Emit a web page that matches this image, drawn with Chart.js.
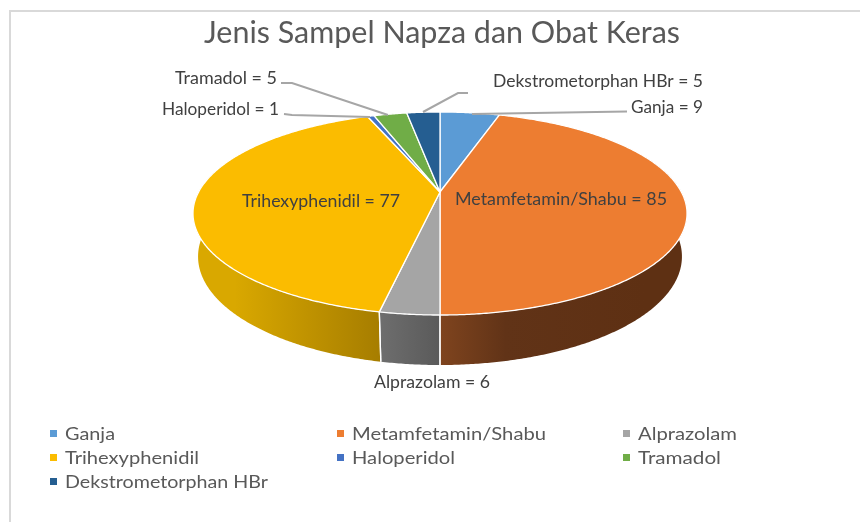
<!DOCTYPE html>
<html>
<head>
<meta charset="utf-8">
<script src="https://cdn.jsdelivr.net/npm/chart.js@4"></script>
<style>
html,body{margin:0;padding:0;background:#fff;overflow:hidden}
canvas{display:block;filter:blur(0.4px)}
</style>
</head>
<body>
<canvas id="c" width="860" height="522"></canvas>
<script>
const chartTitle = "Jenis Sampel Napza dan Obat Keras";
const categories = ["Ganja","Metamfetamin/Shabu","Alprazolam","Trihexyphenidil","Haloperidol","Tramadol","Dekstrometorphan HBr"];
const values = [9,85,6,77,1,5,5];
const colors = ["#5b9bd5","#ed7d31","#a5a5a5","#fbbc00","#4472c4","#70ad47","#255e91"];
const wallStops = [
  [[0,"#3c5f80"],[1,"#3c5f80"]],
  [[0,"#7f441e"],[0.32,"#613317"],[1,"#5e3013"]],
  [[0,"#6e6e6e"],[1,"#5a5a5a"]],
  [[0,"#d9a800"],[1,"#a67d00"]],
  [[0,"#2b4a80"],[1,"#2b4a80"]],
  [[0,"#446b2c"],[1,"#446b2c"]],
  [[0,"#163a5a"],[1,"#163a5a"]]
];

// Perspective of the tilted disc: maps a unit-circle angle and a depth to the page.
const view = {cx:440, hubY:192, A:241.4, b:56.3, k:0.2118, m:0.02, d:46.7};
function project(a, depth){
  const u = Math.cos(a), v = Math.sin(a);
  const w = 1 - view.k*v + view.m*depth;
  return {x: view.cx + view.A*u/w, y: (view.hubY + view.b*v + view.d*depth)/w};
}
function trace(ctx, from, to, depth){
  const n = Math.max(2, Math.ceil(Math.abs(to-from)/0.008));
  for(let i=0;i<=n;i++){
    const p = project(from+(to-from)*i/n, depth);
    ctx.lineTo(p.x,p.y);
  }
}
const visible = [-0.4, Math.PI+0.4];

const titleBox = {left:204, right:680, y:33, size:30};
const labelBoxes = [
  {left:631, right:703, y:108},
  {left:455, right:667, y:200},
  {left:374, right:490, y:383},
  {left:242, right:400, y:202},
  {left:162, right:279, y:110},
  {left:175, right:277, y:79},
  {left:493, right:703, y:82}
];
const leaderPaths = [
  [[627,111.5],[472,114]],
  null,
  null,
  null,
  [[284,114],[292,115],[370,117]],
  [[281,83],[292,83],[388,115]],
  [[468,93],[458,93],[423,112]]
];
const legendCols = [50,337,623];
const legendRows = [434,458,482];
const legendWidths = [50,194,99,134,103,83,203];

function fitText(ctx, str, left, right, y, size, color){
  ctx.save();
  ctx.font = size+"px Lato";
  ctx.fillStyle = color;
  ctx.textBaseline = "middle";
  ctx.textAlign = "left";
  const w = ctx.measureText(str).width;
  ctx.translate(left,y);
  ctx.scale((right-left)/w,1);
  ctx.fillText(str,0,0);
  ctx.restore();
}

const pie3d = {
  id:"pie3d",
  beforeDatasetDraw(chart,args){
    const ctx = chart.ctx, arcs = args.meta.data;
    ctx.save();
    // side wall
    arcs.forEach((el,i)=>{
      const s = Math.max(el.startAngle,visible[0]), e = Math.min(el.endAngle,visible[1]);
      if(e<=s) return;
      const a = project(s,0), z = project(e,0);
      const x0 = Math.min(a.x,z.x,project(s,1).x,project(e,1).x);
      const x1 = Math.max(a.x,z.x,project(s,1).x,project(e,1).x);
      const g = ctx.createLinearGradient(x0,0,x1,0);
      const st = wallStops[i];
      st.forEach(p=>g.addColorStop(p[0],p[1]));
      ctx.beginPath();
      trace(ctx,s,e,0);
      trace(ctx,e,s,1);
      ctx.closePath();
      ctx.fillStyle = g;
      ctx.fill();
    });
    ctx.strokeStyle="#fff"; ctx.lineWidth=1.3;
    arcs.forEach(el=>{
      [el.startAngle,el.endAngle].forEach(t=>{
        if(t>0.1 && t<Math.PI-0.1){
          const p=project(t,0), q=project(t,1);
          ctx.beginPath(); ctx.moveTo(p.x,p.y); ctx.lineTo(q.x,q.y); ctx.stroke();
        }
      });
    });
    // top face
    arcs.forEach((el,i)=>{
      ctx.beginPath();
      ctx.moveTo(view.cx,view.hubY);
      trace(ctx,el.startAngle,el.endAngle,0);
      ctx.closePath();
      ctx.fillStyle = colors[i];
      ctx.fill();
      ctx.strokeStyle="#fff"; ctx.lineWidth=1.3; ctx.lineJoin="round";
      ctx.stroke();
    });
    ctx.restore();
    return false;
  },
  afterDraw(chart){
    const ctx = chart.ctx;
    // frame
    ctx.fillStyle="#d9d9d9";
    ctx.fillRect(9,10,851,2);
    ctx.fillRect(9,10,2,512);
    fitText(ctx,chartTitle,titleBox.left,titleBox.right,titleBox.y,titleBox.size,"#595959");
    // leaders
    ctx.strokeStyle="#a6a6a6"; ctx.lineWidth=2;
    leaderPaths.forEach(path=>{
      if(!path) return;
      ctx.beginPath();
      path.forEach((p,i)=> i?ctx.lineTo(p[0],p[1]):ctx.moveTo(p[0],p[1]));
      ctx.stroke();
    });
    categories.forEach((c,i)=>{
      const b = labelBoxes[i];
      fitText(ctx,c+" = "+values[i],b.left,b.right,b.y,16.5,"#404040");
      const col = i%3, row = Math.floor(i/3);
      ctx.fillStyle = colors[i];
      ctx.fillRect(legendCols[col],legendRows[row]-4,7,7);
      fitText(ctx,c,legendCols[col]+15,legendCols[col]+15+legendWidths[i],legendRows[row],18,"#595959");
    });
  }
};

new Chart(document.getElementById("c"),{
  type:"pie",
  data:{labels:categories,datasets:[{data:values,backgroundColor:colors,borderColor:"#fff"}]},
  options:{
    responsive:false,
    animation:false,
    plugins:{legend:{display:false},title:{display:false},tooltip:{enabled:false}}
  },
  plugins:[pie3d]
});
</script>
</body>
</html>
